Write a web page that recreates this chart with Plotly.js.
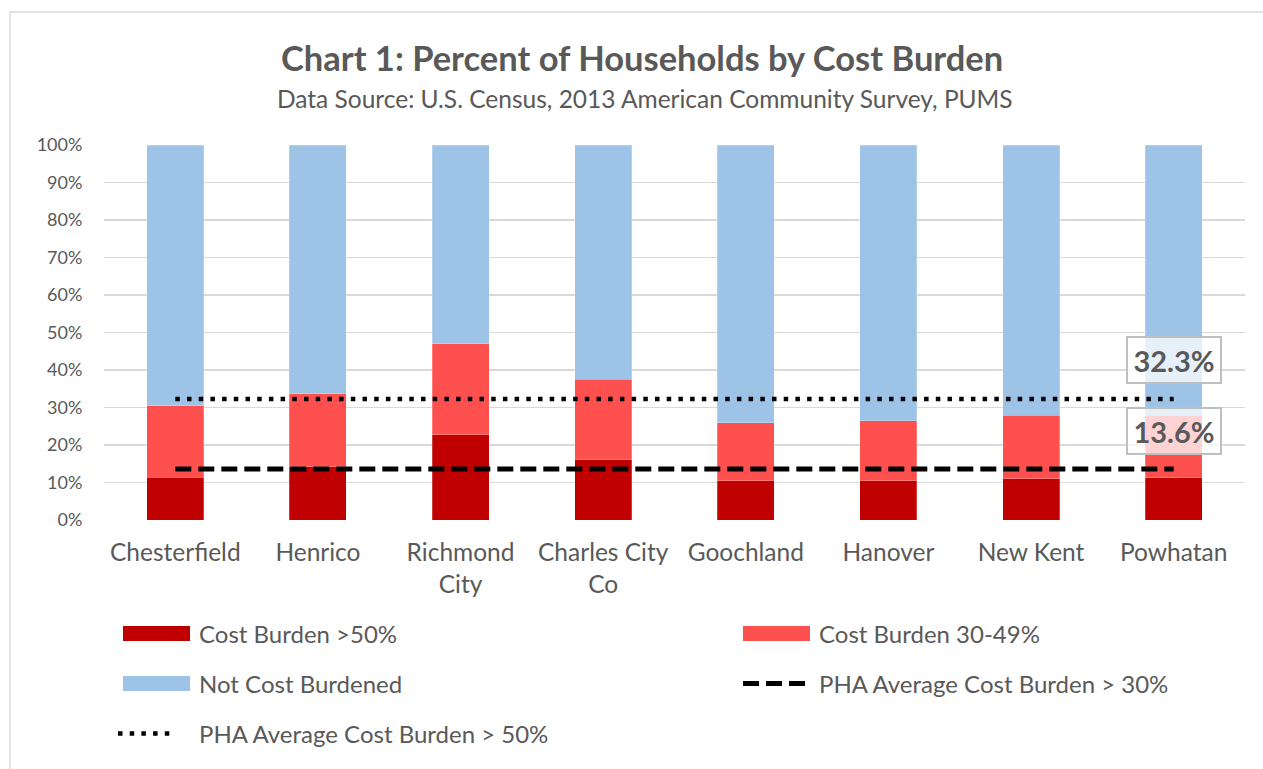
<!DOCTYPE html>
<html>
<head>
<meta charset="utf-8">
<script src="https://cdn.plot.ly/plotly-3.0.1.min.js"></script>
<style>
html,body{margin:0;padding:0;background:#fff;overflow:hidden;}
#chart{width:1263px;height:769px;}
</style>
</head>
<body>
<div id="chart"></div>
<script>
// ---- data ----
const categories = ["Chesterfield", "Henrico", "Richmond<br>City", "Charles City<br>Co", "Goochland", "Hanover", "New Kent", "Powhatan"];
const burdenOver50 = [0.114, 0.142, 0.228, 0.161, 0.105, 0.105, 0.110, 0.113];
const burden30to49 = [0.191, 0.195, 0.242, 0.215, 0.155, 0.160, 0.170, 0.167];
const notBurdened = [0.695, 0.663, 0.530, 0.624, 0.740, 0.735, 0.720, 0.720];
const phaAvgOver30 = [0.136, 0.136, 0.136, 0.136, 0.136, 0.136, 0.136, 0.136];
const phaAvgOver50 = [0.323, 0.323, 0.323, 0.323, 0.323, 0.323, 0.323, 0.323];
const yTickVals = [0, 0.1, 0.2, 0.3, 0.4, 0.5, 0.6, 0.7, 0.8, 0.9, 1.0];
const yTickText = ["0%", "10%", "20%", "30%", "40%", "50%", "60%", "70%", "80%", "90%", "100%"];
const seriesNames = ["Cost Burden >50%", "Cost Burden 30-49%", "Not Cost Burdened", "PHA Average Cost Burden > 30%", "PHA Average Cost Burden > 50%"];
const labelOver50 = "32.3%";
const labelOver30 = "13.6%";

// ---- styling / layout ----
const FONT = "Lato, Open Sans, sans-serif";
const TXT = "#595959";
const W = 1263, H = 769;
const M = {l: 104, r: 18, t: 145, b: 249};
const PW = W - M.l - M.r, PH = H - M.t - M.b;
const px = x => (x - M.l) / PW;
const py = y => (H - M.b - y) / PH;

const C_DARK = "#C00000", C_RED = "#FF5050", C_BLUE = "#9DC3E6";

const traces = [
  {type: "bar", x: categories, y: burdenOver50, name: seriesNames[0], marker: {color: C_DARK, line: {width: 0.6, color: "rgba(255,255,255,0.4)"}}, width: 0.4, showlegend: false},
  {type: "bar", x: categories, y: burden30to49, name: seriesNames[1], marker: {color: C_RED, line: {width: 0.6, color: "rgba(255,255,255,0.4)"}}, width: 0.4, showlegend: false},
  {type: "bar", x: categories, y: notBurdened, name: seriesNames[2], marker: {color: C_BLUE, line: {width: 0.6, color: "rgba(255,255,255,0.4)"}}, width: 0.4, showlegend: false},
  {type: "scatter", mode: "lines", x: categories, y: phaAvgOver30, name: seriesNames[3], line: {color: "#000", width: 5, dash: "16px,7px"}, showlegend: false},
  {type: "scatter", mode: "lines", x: categories, y: phaAvgOver50, name: seriesNames[4], line: {color: "#000", width: 4.5, dash: "4.5px,7.2px"}, showlegend: false}
];

const shapes = [
  {type: "rect", xref: "paper", yref: "paper", x0: px(10), x1: px(1300), y0: py(12), y1: py(800), line: {color: "#d9d9d9", width: 1.3}, fillcolor: "rgba(0,0,0,0)", layer: "below"},
  {type: "rect", xref: "paper", yref: "paper", x0: px(123), x1: px(190), y0: py(626), y1: py(641), fillcolor: C_DARK, line: {width: 0}},
  {type: "rect", xref: "paper", yref: "paper", x0: px(743), x1: px(810), y0: py(626), y1: py(641), fillcolor: C_RED, line: {width: 0}},
  {type: "rect", xref: "paper", yref: "paper", x0: px(123), x1: px(190), y0: py(676), y1: py(691), fillcolor: C_BLUE, line: {width: 0}},
  {type: "line", xref: "paper", yref: "paper", x0: px(743), x1: px(805), y0: py(683.5), y1: py(683.5), line: {color: "#000", width: 5, dash: "16px,7px"}},
  {type: "line", xref: "paper", yref: "paper", x0: px(118), x1: px(174), y0: py(733.5), y1: py(733.5), line: {color: "#000", width: 4.5, dash: "4.5px,7.2px"}}
];

const legText = (text, x, y) => ({text: text, xref: "paper", yref: "paper", x: px(x), y: py(y), xanchor: "left", yanchor: "middle", showarrow: false, font: {family: FONT, size: 24, color: TXT}});

const annotations = [
  {text: "<b>Chart 1: Percent of Households by Cost Burden</b>", xref: "paper", yref: "paper", x: px(642), y: py(57), xanchor: "center", yanchor: "middle", showarrow: false, font: {family: FONT, size: 34.5, color: TXT}},
  {text: "Data Source: U.S. Census, 2013 American Community Survey, PUMS", xref: "paper", yref: "paper", x: px(645), y: py(99), xanchor: "center", yanchor: "middle", showarrow: false, font: {family: FONT, size: 24.5, color: TXT}},
  legText(seriesNames[0], 197, 633),
  legText(seriesNames[1], 817, 633),
  legText(seriesNames[2], 197, 683),
  legText(seriesNames[3], 817, 683),
  legText(seriesNames[4], 197, 733),
  {text: "<b>" + labelOver50 + "</b>", x: categories[7], y: phaAvgOver50[7], yshift: 39, xref: "x", yref: "y", showarrow: false, font: {family: FONT, size: 29, color: TXT}, bgcolor: "rgba(255,255,255,0.75)", bordercolor: "#bfbfbf", borderwidth: 2, borderpad: 1, width: 90, height: 42},
  {text: "<b>" + labelOver30 + "</b>", x: categories[7], y: phaAvgOver30[7], yshift: 38, xref: "x", yref: "y", showarrow: false, font: {family: FONT, size: 29, color: TXT}, bgcolor: "rgba(255,255,255,0.75)", bordercolor: "#bfbfbf", borderwidth: 2, borderpad: 1, width: 90, height: 42}
];

const layout = {
  width: W, height: H,
  margin: M,
  paper_bgcolor: "#fff", plot_bgcolor: "#fff",
  barmode: "stack",
  showlegend: false,
  font: {family: FONT, color: TXT},
  xaxis: {type: "category", tickfont: {family: FONT, size: 24.5, color: TXT}, ticks: "outside", ticklen: 11, tickcolor: "rgba(0,0,0,0)", showgrid: false, showline: false, zeroline: false, fixedrange: true},
  yaxis: {range: [0, 1], tickvals: yTickVals, ticktext: yTickText, tickfont: {family: FONT, size: 18, color: TXT}, ticks: "outside", ticklen: 17, tickcolor: "rgba(0,0,0,0)", showgrid: true, gridcolor: "#d9d9d9", gridwidth: 1.4, zeroline: false, showline: false, fixedrange: true},
  shapes: shapes,
  annotations: annotations
};

Plotly.newPlot("chart", traces, layout, {displayModeBar: false, staticPlot: true});
</script>
</body>
</html>
